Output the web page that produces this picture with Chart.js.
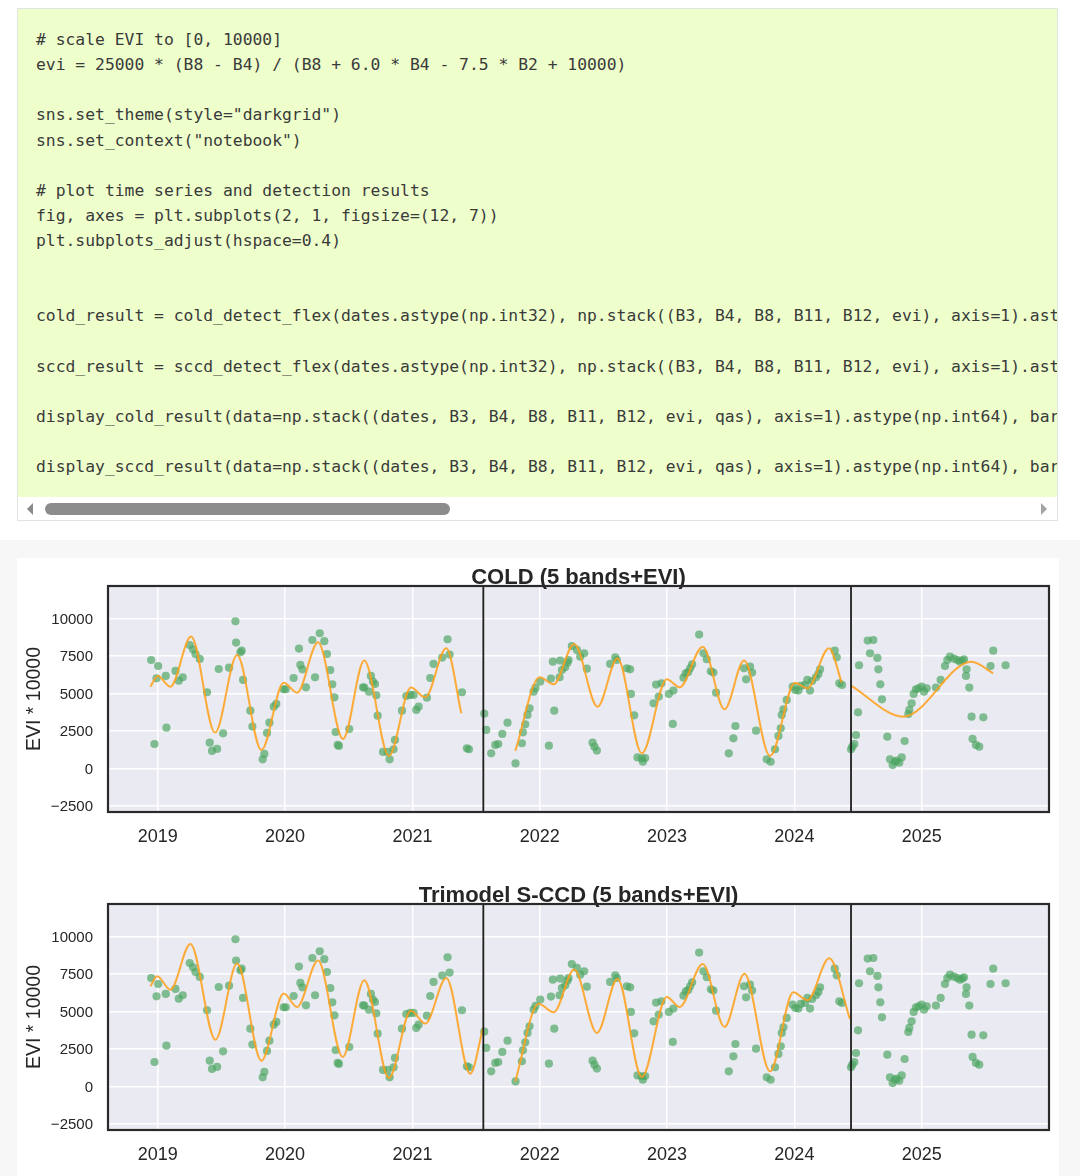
<!DOCTYPE html>
<html>
<head>
<meta charset="utf-8">
<script src="https://cdn.jsdelivr.net/npm/chart.js@4.4.1/dist/chart.umd.min.js"></script>
<style>
html,body{margin:0;padding:0;background:#fff;}
body{width:1080px;height:1176px;position:relative;overflow:hidden;}
#cell{position:absolute;left:17px;top:8px;width:1041px;height:513px;border:1px solid #e1e4e5;box-sizing:border-box;background:#fff;}
#code{position:absolute;left:0;top:0;width:100%;height:488px;background:#eeffcc;overflow:hidden;}
#code pre{margin:0;padding:18px 0 0 18px;font-family:"DejaVu Sans Mono",monospace;font-size:16.35px;line-height:25.12px;color:#3a3a3a;white-space:pre;}
#thumb{position:absolute;left:27px;top:494px;width:405px;height:12px;border-radius:6px;background:#8c8c8c;}
#larr{position:absolute;left:9px;top:494px;width:0;height:0;border-top:6px solid transparent;border-bottom:6px solid transparent;border-right:6px solid #8a8a8a;}
#rarr{position:absolute;left:1023px;top:494px;width:0;height:0;border-top:6px solid transparent;border-bottom:6px solid transparent;border-left:6px solid #a3a3a3;}
#out{position:absolute;left:0;top:540px;width:1080px;height:636px;background:#f7f7f7;}
#fig{position:absolute;left:17px;top:558px;width:1042px;height:618px;background:#fff;}
canvas{position:absolute;left:17px;}
#c1{top:558px;}
#c2{top:876px;}
</style>
</head>
<body>
<div id="cell">
<div id="code"><pre># scale EVI to [0, 10000]
evi = 25000 * (B8 - B4) / (B8 + 6.0 * B4 - 7.5 * B2 + 10000)

sns.set_theme(style="darkgrid")
sns.set_context("notebook")

# plot time series and detection results
fig, axes = plt.subplots(2, 1, figsize=(12, 7))
plt.subplots_adjust(hspace=0.4)


cold_result = cold_detect_flex(dates.astype(np.int32), np.stack((B3, B4, B8, B11, B12, evi), axis=1).ast

sccd_result = sccd_detect_flex(dates.astype(np.int32), np.stack((B3, B4, B8, B11, B12, evi), axis=1).ast

display_cold_result(data=np.stack((dates, B3, B4, B8, B11, B12, evi, qas), axis=1).astype(np.int64), bar

display_sccd_result(data=np.stack((dates, B3, B4, B8, B11, B12, evi, qas), axis=1).astype(np.int64), bar</pre></div>
<div id="larr"></div><div id="thumb"></div><div id="rarr"></div>
</div>
<div id="out"></div>
<div id="fig"></div>
<canvas id="c1" width="1040" height="300" style="width:1040px;height:300px"></canvas>
<canvas id="c2" width="1040" height="300" style="width:1040px;height:300px"></canvas>
<script>
// ---- observations (decimal year, EVI*10000) ----
const obsDates = [2018.948,2018.974,2018.990,2019.003,2019.063,2019.068,2019.139,2019.165,2019.196,2019.251,2019.277,2019.296,2019.330,2019.387,2019.408,2019.426,2019.466,2019.479,2019.513,2019.560,2019.610,2019.615,2019.649,2019.659,2019.670,2019.727,2019.743,2019.824,2019.837,2019.858,2019.877,2019.911,2019.931,2019.989,2020.005,2020.067,2020.109,2020.120,2020.136,2020.164,2020.214,2020.235,2020.272,2020.308,2020.329,2020.355,2020.371,2020.387,2020.397,2020.413,2020.423,2020.504,2020.612,2020.622,2020.659,2020.674,2020.690,2020.706,2020.716,2020.727,2020.769,2020.805,2020.821,2020.852,2020.863,2020.918,2020.952,2020.983,2021.009,2021.030,2021.049,2021.114,2021.140,2021.166,2021.234,2021.276,2021.292,2021.389,2021.428,2021.444,2021.564,2021.580,2021.619,2021.651,2021.674,2021.706,2021.747,2021.810,2021.860,2021.868,2021.886,2021.904,2021.920,2021.952,2021.967,2022.004,2022.072,2022.088,2022.103,2022.114,2022.156,2022.161,2022.174,2022.200,2022.218,2022.226,2022.252,2022.292,2022.318,2022.349,2022.370,2022.415,2022.430,2022.449,2022.553,2022.593,2022.606,2022.684,2022.710,2022.716,2022.742,2022.768,2022.802,2022.810,2022.828,2022.894,2022.914,2022.935,2022.956,2023.014,2023.045,2023.050,2023.129,2023.147,2023.166,2023.181,2023.197,2023.252,2023.286,2023.312,2023.344,2023.364,2023.385,2023.485,2023.521,2023.537,2023.605,2023.621,2023.652,2023.668,2023.699,2023.783,2023.814,2023.848,2023.875,2023.893,2023.901,2023.914,2023.940,2023.987,2024.008,2024.032,2024.050,2024.084,2024.102,2024.123,2024.139,2024.170,2024.189,2024.202,2024.317,2024.333,2024.353,2024.374,2024.445,2024.455,2024.471,2024.484,2024.500,2024.508,2024.576,2024.594,2024.620,2024.652,2024.660,2024.675,2024.688,2024.730,2024.751,2024.772,2024.790,2024.803,2024.824,2024.843,2024.866,2024.895,2024.903,2024.921,2024.937,2024.955,2024.976,2025.000,2025.018,2025.039,2025.112,2025.149,2025.183,2025.201,2025.222,2025.253,2025.280,2025.301,2025.321,2025.332,2025.348,2025.353,2025.374,2025.392,2025.400,2025.426,2025.452,2025.484,2025.541,2025.562,2025.659];
const obsEvi = [7220,1620,6000,6820,6160,2710,6490,5840,6070,8220,7930,7620,7290,5070,1710,1160,1290,6620,2330,6710,9800,8380,7730,7840,5890,3840,2780,600,960,2360,3040,4110,4290,5270,5270,6020,7980,6890,6600,5400,8550,6070,9000,8470,7620,6550,5600,4730,2420,1560,1490,2620,5400,5380,5110,6160,5780,5620,4870,3510,1090,1090,600,1270,1890,3840,4820,4890,4890,3890,4110,4710,6020,6960,7380,8600,7580,5070,1330,1270,3640,2560,1000,1560,1620,2290,3040,330,1670,2400,2930,3560,4000,5110,5360,5780,1510,5980,7110,3840,6070,7180,6550,6730,7040,7220,8150,7890,7440,7670,6640,1710,1440,1180,6960,7400,7220,6670,6600,4960,3530,730,670,440,690,4330,5580,4780,5670,4960,2960,5180,6040,6330,6420,6670,6930,8910,7670,7270,6470,6380,5040,1000,2000,2820,6670,5930,6780,6380,2510,600,440,1270,2160,2670,3560,3930,4560,5440,5220,5180,5490,5560,5890,5180,5820,6070,6290,6600,7840,7400,5670,5560,1270,1440,1620,2220,3730,6870,8510,7670,8550,7360,6600,5600,4600,2110,600,220,440,510,380,730,1820,3620,3890,4330,4960,5270,5330,5440,5110,5330,5380,5890,6820,7220,7440,7310,7220,7110,7180,7270,6160,6600,5380,3440,1960,1560,1440,3400,6820,7840,6870];

// ---- COLD model curve (segments) ----
const coldSeg1Dates = [2018.942,2019.000,2019.099,2019.262,2019.450,2019.623,2019.814,2019.989,2020.094,2020.259,2020.455,2020.622,2020.816,2020.988,2021.101,2021.266,2021.384];
const coldSeg1Evi   = [5440,6160,5440,8780,2380,7550,1220,5710,5040,8400,1960,7180,820,5380,4730,8000,3670];
const coldSeg2Dates = [2021.808,2021.999,2022.109,2022.271,2022.454,2022.611,2022.802,2022.998,2023.098,2023.281,2023.451,2023.605,2023.809,2024.005,2024.102,2024.272,2024.372];
const coldSeg2Evi   = [1160,6070,5600,8290,4110,7330,1000,5930,5400,8110,3930,7180,820,5710,5330,8000,5710];
const coldSeg3Dates = [2024.445,2024.856,2025.392,2025.562];
const coldSeg3Evi   = [5510,3440,7110,6330];

// ---- S-CCD model curve (segments) ----
const sccdSeg1Dates = [2018.942,2018.995,2019.099,2019.256,2019.453,2019.623,2019.814,2019.989,2020.094,2020.259,2020.452,2020.622,2020.816,2020.988,2021.101,2021.266,2021.454,2021.555];
const sccdSeg1Evi   = [6670,7330,6440,9490,3110,8180,1710,6180,5290,8380,1960,7070,560,5040,4180,7220,840,3900];
const sccdSeg2Dates = [2021.808,2021.991,2022.109,2022.271,2022.449,2022.611,2022.802,2022.998,2023.098,2023.281,2023.451,2023.608,2023.809,2023.992,2024.102,2024.274,2024.437];
const sccdSeg2Evi   = [330,5510,4930,7780,3560,7160,620,5960,5290,8150,3960,7510,1000,6270,5730,8530,4470];

// ---- breaks and ticks ----
const breakDates = [2021.557, 2024.445];
const yearTicks = [2019,2020,2021,2022,2023,2024,2025];
const eviTicks = [-2500,0,2500,5000,7500,10000];
const xRange = [2018.609, 2026.0];
const yRange = [-2910, 12150];

const FONT = '"Liberation Sans", Arial, Helvetica, sans-serif';
const TXT = '#262626';

function xy(ds, vs){ return ds.map((d,i)=>({x:d, y:vs[i]})); }

const framePlugin = {
  id: 'frame',
  beforeDraw(chart){
    const {ctx, chartArea:a} = chart;
    ctx.save(); ctx.fillStyle = '#eaeaf2';
    ctx.fillRect(a.left, a.top, a.right-a.left, a.bottom-a.top);
    ctx.restore();
  },
  afterDatasetsDraw(chart){
    const {ctx, chartArea:a, scales:{x}} = chart;
    ctx.save();
    ctx.strokeStyle = '#1e1e1e'; ctx.lineWidth = 1.8;
    breakDates.forEach(d=>{
      const px = x.getPixelForValue(d);
      ctx.beginPath(); ctx.moveTo(px, a.top); ctx.lineTo(px, a.bottom); ctx.stroke();
    });
    ctx.strokeStyle = '#2a2a2a'; ctx.lineWidth = 2.2;
    ctx.strokeRect(a.left, a.top, a.right-a.left, a.bottom-a.top);
    ctx.restore();
  }
};

function curveDataset(ds, vs){
  return {data: xy(ds, vs), showLine: true, pointRadius: 0, borderColor: 'rgba(255,160,25,0.85)',
          borderWidth: 2, cubicInterpolationMode: 'monotone', fill: false, order: 1};
}

function makeChart(id, title, segs){
  const datasets = [{
    data: xy(obsDates, obsEvi), pointRadius: 4.1, pointBorderWidth: 0,
    pointBackgroundColor: 'rgba(76,165,98,0.68)', borderColor: 'rgba(0,0,0,0)', showLine: false, order: 2
  }];
  segs.forEach(s=>datasets.push(curveDataset(s[0], s[1])));
  return new Chart(document.getElementById(id), {
    type: 'scatter',
    data: {datasets},
    options: {
      responsive: false, animation: false, events: [], devicePixelRatio: 1,
      layout: {padding: {left:0, right:8, top:0, bottom:0}},
      plugins: {
        legend: {display:false}, tooltip: {enabled:false},
        title: {display:true, text:title, fullSize:false, color:TXT,
                font:{family:FONT, size:22, weight:'bold', lineHeight:1}, padding:{top:8.5,bottom:-2.5}}
      },
      scales: {
        x: {
          type:'linear', min:xRange[0], max:xRange[1],
          afterBuildTicks: s=>{ s.ticks = yearTicks.map(v=>({value:v})); },
          afterFit: s=>{ s.height = 46; },
          grid: {color:'#ffffff', lineWidth:1.5, drawTicks:false},
          border: {display:false},
          ticks: {color:TXT, font:{family:FONT, size:18}, padding:14, maxRotation:0, autoSkip:false,
                  callback: v=>String(v)}
        },
        y: {
          type:'linear', min:yRange[0], max:yRange[1],
          afterBuildTicks: s=>{ s.ticks = eviTicks.map(v=>({value:v})); },
          afterFit: s=>{ s.width = 91; },
          grid: {color:'#ffffff', lineWidth:1.5, drawTicks:false},
          border: {display:false},
          ticks: {color:TXT, font:{family:FONT, size:15}, padding:15, labelOffset:1.5, autoSkip:false,
                  callback: v=> v<0 ? '\u2212'+Math.abs(v) : String(v)},
          title: {display:true, text:'EVI * 10000', color:TXT, font:{family:FONT, size:19.5, lineHeight:1.2},
                  padding:{top:6.3, bottom:0}}
        }
      }
    },
    plugins: [framePlugin]
  });
}

makeChart('c1', 'COLD (5 bands+EVI)', [[coldSeg1Dates, coldSeg1Evi],[coldSeg2Dates, coldSeg2Evi],[coldSeg3Dates, coldSeg3Evi]]);
makeChart('c2', 'Trimodel S-CCD (5 bands+EVI)', [[sccdSeg1Dates, sccdSeg1Evi],[sccdSeg2Dates, sccdSeg2Evi]]);
</script>
</body>
</html>
